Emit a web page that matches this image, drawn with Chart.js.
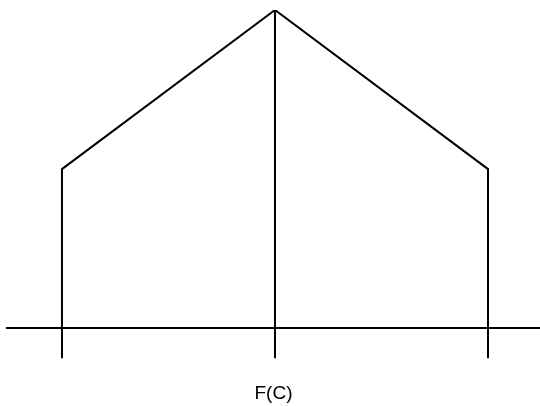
<!DOCTYPE html>
<html>
<head>
<meta charset="utf-8">
<script src="https://cdn.jsdelivr.net/npm/chart.js@4/dist/chart.umd.min.js"></script>
<style>
  body { margin: 0; background: #fff; }
  #wrap { width: 540px; height: 406px; }
</style>
</head>
<body>
<div id="wrap"><canvas id="roofChart"></canvas></div>
<script>
// three posts along F(C), left / centre / right
const posts = [0, 1, 2];
// height of each post above the axis
const postHeights = [1, 2, 1];
const axisTitle = "F(C)";
// visible stretch of the F(C) axis
const axisRange = [-0.258, 2.244];

// outline: up the left post, over the peak, down the right post
var outline = [{ x: posts[0], y: 0 }];
posts.forEach(function (p, i) {
    outline.push({ x: p, y: postHeights[i] });
});
outline.push({ x: posts[posts.length - 1], y: 0 });

// centre post from the axis up to the peak
var centrePost = [
    { x: posts[1], y: 0 },
    { x: posts[1], y: postHeights[1] }
];

var roofChart = new Chart(document.getElementById('roofChart'), {
    type: 'line',
    data: {
        datasets: [{
            data: outline,
            borderColor: "#000",
            borderWidth: 2,
            pointRadius: 0,
            fill: false
        }, {
            data: centrePost,
            borderColor: "#000",
            borderWidth: 2,
            pointRadius: 0,
            fill: false
        }]
    },
    options: {
        responsive: true,
        maintainAspectRatio: false,
        animation: false,
        layout: { padding: { top: 10, left: 7, right: 0, bottom: 0 } },
        plugins: {
            legend: { display: false },
            tooltip: { enabled: false }
        },
        scales: {
            x: {
                type: 'linear',
                min: axisRange[0],
                max: axisRange[1],
                afterBuildTicks: function (scale) {
                    scale.ticks = posts.map(function (v) { return { value: v }; });
                },
                ticks: { display: false },
                grid: {
                    drawOnChartArea: false,
                    drawTicks: true,
                    tickLength: 30,
                    color: "#000",
                    lineWidth: 2
                },
                border: { display: true, color: "#000", width: 2 },
                title: {
                    display: true,
                    text: axisTitle,
                    color: "#000",
                    font: { family: "'Liberation Sans', Arial, sans-serif", size: 19 },
                    padding: { top: 24, bottom: 1 }
                }
            },
            y: {
                display: false,
                min: 0,
                max: 2
            }
        }
    }
});
</script>
</body>
</html>
